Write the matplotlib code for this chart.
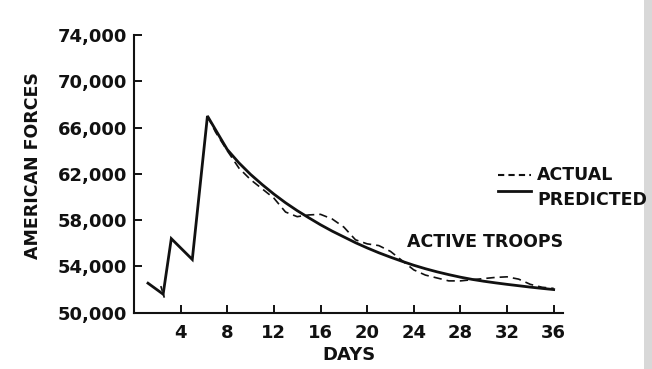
import matplotlib
matplotlib.use("Agg")
import matplotlib.pyplot as plt
from matplotlib.patches import Rectangle

# ---- data ----
pred_days = [1.2, 2.5, 3.2, 5.0, 6.3, 7, 8, 9, 10, 11, 12, 13, 14, 15, 16, 17, 18, 19, 20,
             21, 22, 23, 24, 25, 26, 27, 28, 29, 30, 31, 32, 33, 34, 35, 36]
pred_vals = [52550, 51600, 56400, 54600, 67000, 65800, 64100, 62950, 61950, 61070, 60250,
             59500, 58820, 58200, 57600, 57050, 56550, 56050, 55600, 55180, 54800, 54440,
             54100, 53800, 53530, 53290, 53070, 52880, 52720, 52580, 52450, 52330, 52210,
             52100, 52000]

act_days = [2.3, 2.6, 6.3, 7, 8, 9, 10, 11, 12, 13, 14, 15, 16, 17, 18, 19, 20, 21, 22,
            23, 24, 25, 26, 27, 28, 29, 30, 31, 32, 33, 34, 35, 36]
act_vals = [52300, 51300, 67000, 65600, 64000, 62500, 61500, 60700, 59900, 58700, 58300,
            58450, 58500, 58100, 57400, 56300, 55950, 55800, 55300, 54500, 53700, 53250,
            53000, 52750, 52750, 52850, 52950, 53050, 53100, 52900, 52450, 52200, 52100]

x_ticks = [4, 8, 12, 16, 20, 24, 28, 32, 36]
y_ticks = [50000, 54000, 58000, 62000, 66000, 70000, 74000]
y_labels = ["50,000", "54,000", "58,000", "62,000", "66,000", "70,000", "74,000"]

W, H = 652, 369
fig = plt.figure(figsize=(W / 100, H / 100), dpi=100)
ax = fig.add_axes([134 / W, 1 - 312.7 / H, (563 - 134) / W, (312.7 - 35) / H])

ink = "#111111"
ax.plot(pred_days, pred_vals, color=ink, lw=2.0, solid_joinstyle="miter")
ax.plot(act_days[:2], act_vals[:2], color=ink, lw=1.2, dashes=(3, 2))
ax.plot(act_days[2:], act_vals[2:], color=ink, lw=1.2, dashes=(5, 3))

ax.set_xlim(0, 36.8)
ax.set_ylim(50000, 74000)
ax.set_xticks(x_ticks)
ax.set_xticklabels([str(t) for t in x_ticks])
ax.set_yticks(y_ticks)
ax.set_yticklabels(y_labels)

for s in ["top", "right"]:
    ax.spines[s].set_visible(False)
for s in ["left", "bottom"]:
    ax.spines[s].set_linewidth(1.5)
    ax.spines[s].set_color(ink)

ax.tick_params(direction="in", length=6, width=1.4, colors=ink, pad=8,
               labelsize=13)
for lab in ax.get_xticklabels() + ax.get_yticklabels():
    lab.set_fontweight("bold")
ax.tick_params(axis="y", pad=5)

ax.set_xlabel("DAYS", fontsize=13, fontweight="bold", color=ink, labelpad=3)
fig.text(33 / W, 1 - 166 / H, "AMERICAN FORCES", rotation=90, fontsize=12.5,
         fontweight="bold", color=ink, ha="center", va="center")

# legend drawn by hand, as in the reference
fig.add_artist(plt.Line2D([498 / W, 531 / W], [1 - 175 / H, 1 - 175 / H],
                          color=ink, lw=1.5, dashes=(3, 2)))
fig.add_artist(plt.Line2D([498 / W, 531 / W], [1 - 191 / H, 1 - 191 / H],
                          color=ink, lw=2.0))
fig.text(537 / W, 1 - 175 / H, "ACTUAL", fontsize=12.5, fontweight="bold",
         color=ink, va="center", ha="left")
fig.text(537 / W, 1 - 200 / H, "PREDICTED", fontsize=12.5, fontweight="bold",
         color=ink, va="center", ha="left")
fig.text(407 / W, 1 - 242 / H, "ACTIVE TROOPS", fontsize=12.5, fontweight="bold",
         color=ink, va="center", ha="left")

# gray scan edge on the right
fig.add_artist(Rectangle((644 / W, 0), 8 / W, 1, transform=fig.transFigure,
                         color="#d8d8d8", lw=0))

fig.savefig("out.png", dpi=100)
